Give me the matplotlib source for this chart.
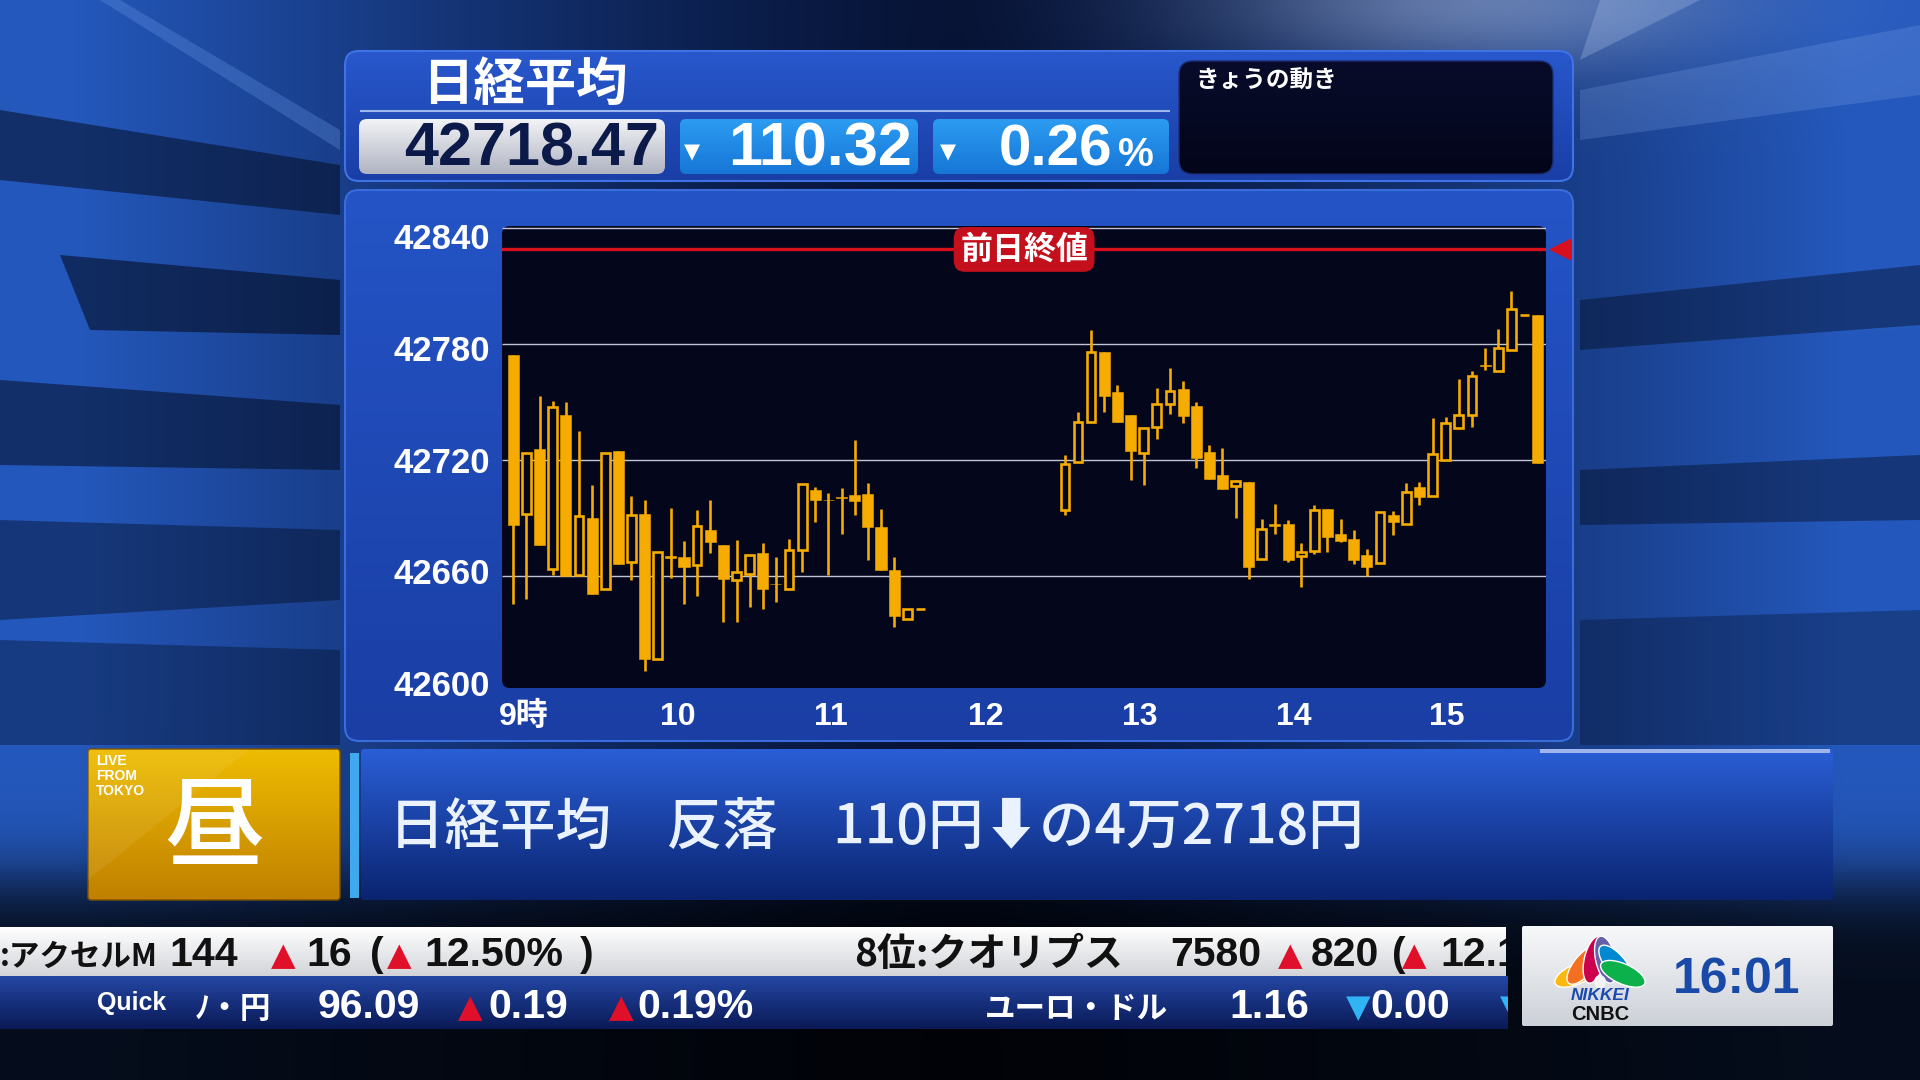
import numpy as np
import matplotlib.pyplot as plt
import matplotlib.transforms as mtransforms
from matplotlib.colors import to_rgb
from matplotlib.patches import FancyBboxPatch, Rectangle, Polygon, Ellipse

# ---------------- values ----------------
nikkei_last = 42718.47
nikkei_chg = -110.32
nikkei_pct = -0.26
prev_close = round(nikkei_last - nikkei_chg, 2)   # 前日終値

# morning session, 5-minute bars (the last one is the flat 11:30 bar)
am_open = [42774.5, 42692.4, 42725.6, 42663.9, 42743.4, 42660.5, 42690.2, 42653.6,
           42724.7, 42667.4, 42692.4, 42617.3, 42670.5, 42670.0, 42665.7, 42683.8,
           42676.0, 42657.9, 42661.3, 42672.2, 42656.2, 42653.6, 42673.4, 42704.5,
           42699.7, 42701.0, 42701.9, 42702.5, 42685.5, 42663.1, 42638.0, 42643.2]
am_high = [42774.5, 42723.5, 42752.9, 42750.6, 42749.8, 42735.3, 42707.1, 42723.5,
           42724.7, 42701.4, 42699.7, 42672.6, 42695.5, 42678.3, 42694.2, 42699.3,
           42676.0, 42679.0, 42671.2, 42677.2, 42670.0, 42679.5, 42707.6, 42706.3,
           42703.1, 42705.4, 42730.4, 42708.0, 42695.0, 42670.0, 42643.2, 42643.2]
am_low = [42645.8, 42648.4, 42676.0, 42660.5, 42660.0, 42660.5, 42651.0, 42653.6,
          42666.5, 42657.9, 42611.3, 42617.3, 42659.3, 42645.8, 42650.1, 42672.1,
          42636.3, 42636.3, 42644.1, 42643.2, 42646.7, 42653.6, 42662.2, 42688.1,
          42660.5, 42682.1, 42691.6, 42668.6, 42663.1, 42634.0, 42638.0, 42643.2]
am_close = [42686.4, 42723.5, 42676.0, 42747.7, 42660.0, 42691.2, 42651.0, 42723.5,
            42666.5, 42691.6, 42617.3, 42672.6, 42669.5, 42665.1, 42685.9, 42677.8,
            42658.8, 42662.2, 42671.2, 42653.6, 42656.0, 42673.4, 42707.6, 42699.7,
            42699.3, 42700.6, 42699.0, 42685.5, 42663.1, 42639.8, 42643.2, 42643.2]

# afternoon session (the last one is the flat bar before the closing auction)
pm_open = [42694.5, 42718.9, 42739.9, 42775.7, 42755.0, 42743.4, 42723.9, 42737.3, 42748.9,
           42756.7, 42748.0, 42724.0, 42712.1, 42706.8, 42708.8, 42669.1, 42686.9, 42686.9,
           42670.8, 42673.1, 42695.0, 42682.1, 42679.5, 42671.2, 42666.9, 42691.6, 42687.3,
           42706.3, 42701.6, 42720.1, 42736.5, 42743.4, 42769.3, 42765.8, 42777.1, 42794.7]
pm_high = [42722.7, 42744.8, 42787.4, 42775.7, 42758.6, 42743.4, 42736.5, 42757.5, 42767.6,
           42760.7, 42749.9, 42727.8, 42726.1, 42709.7, 42708.8, 42689.8, 42697.3, 42689.0,
           42677.2, 42697.1, 42695.0, 42689.5, 42684.1, 42674.3, 42693.0, 42693.8, 42708.0,
           42708.5, 42741.7, 42742.2, 42761.9, 42765.8, 42777.9, 42787.8, 42807.3, 42794.7]
pm_low = [42691.6, 42718.9, 42739.9, 42745.1, 42739.6, 42710.0, 42707.1, 42731.0, 42743.7,
          42739.1, 42715.8, 42710.1, 42705.2, 42690.4, 42658.8, 42669.1, 42682.1, 42667.4,
          42654.4, 42671.7, 42672.6, 42677.8, 42666.5, 42660.0, 42666.9, 42681.2, 42687.3,
          42696.8, 42701.6, 42720.1, 42736.5, 42737.3, 42766.4, 42765.8, 42777.1, 42794.7]
pm_close = [42717.8, 42739.9, 42775.7, 42752.9, 42739.6, 42724.9, 42736.5, 42749.1, 42755.8,
            42742.9, 42721.3, 42710.1, 42705.2, 42709.2, 42665.1, 42684.7, 42686.2, 42668.3,
            42672.6, 42694.2, 42680.3, 42678.3, 42668.3, 42664.8, 42693.0, 42688.1, 42703.7,
            42701.1, 42723.0, 42739.1, 42743.4, 42763.6, 42768.4, 42777.9, 42797.8, 42794.7]

# closing auction bar (open, high, low, close)
auction = [42794.7, 42794.7, nikkei_last, nikkei_last]

lunch_gap = 10                 # empty 5-minute slots over lunch on the board
hour_labels = ['9時', '10', '11', '12', '13', '14', '15']
hour_slots = [0.82, 12.5, 24.2, 36.0, 47.7, 59.4, 71.1]
y_labels = [42600, 42660, 42720, 42780, 42840]

headline = '日経平均　反落　110円⬇の4万2718円'

# ticker pieces: (left x in px, text, kind)
ticker_top = [(0, ':アクセルM', 'k'), (169, '144', 'n'), (271, '▲', 'up'), (306, '16', 'n'),
              (370, '(', 'n'), (387, '▲', 'up'), (424, '12.50%', 'n'), (580, ')', 'n'),
              (854, '8位:クオリプス', 'kw'), (1170, '7580', 'n'), (1278, '▲', 'up'),
              (1311, '820', 'n'), (1392, '(', 'n'), (1402, '▲', 'up'), (1440, '12.13%', 'n')]
ticker_bot = [(195, 'ﾉ・円', 'k'), (318, '96.09', 'n'), (458, '▲', 'up'), (488, '0.19', 'n'),
              (609, '▲', 'up'), (637, '0.19%', 'n'), (985, 'ユーロ・ドル', 'k'),
              (1229, '1.16', 'n'), (1346, '▼', 'dn'), (1370, '0.00', 'n'), (1500, '▼', 'dn')]
clock = '16:01'

# ---------------- style ----------------
ORANGE = '#f5ab00'
PANEL = '#04061c'
RED = '#d8101c'
CJK = ['Noto Sans CJK JP', 'DejaVu Sans']
LAT = ['Liberation Sans', 'Noto Sans CJK JP', 'DejaVu Sans']
SYM = ['DejaVu Sans']

fig = plt.figure(figsize=(19.2, 10.8), dpi=100)
bg = fig.add_axes([0, 0, 1, 1])
bg.axis('off')
bg.set_xlim(0, 1920)
bg.set_ylim(1080, 0)


def grad_box(x0, y0, x1, y1, c_top, c_bot, r=8, edge='none', lw=0, z=2):
    patch = FancyBboxPatch((x0, y0), x1 - x0, y1 - y0,
                           boxstyle=f'round,pad=0,rounding_size={r}',
                           fc='none', ec=edge, lw=lw, zorder=z + 0.1)
    bg.add_patch(patch)
    t = np.linspace(0, 1, 64)[:, None, None]
    img = np.array(to_rgb(c_top)) * (1 - t) + np.array(to_rgb(c_bot)) * t
    im = bg.imshow(img, extent=(x0, x1, y1, y0), aspect='auto', zorder=z,
                   interpolation='bilinear')
    im.set_clip_path(patch)
    return patch


# studio backdrop
yy, xx = np.mgrid[0:1080:2, 0:1920:2]
side = np.clip((np.abs(xx - 960) / 960.0) ** 1.3 + 0.1, 0, 1)
base = np.array(to_rgb('#030b26'))
lit = np.array(to_rgb('#2458bc'))
img = base + (lit - base) * side[..., None]
glow = np.exp(-((xx - 1480) / 260.0) ** 2 - (yy / 70.0) ** 2)
img = img + 0.4 * glow[..., None] * (np.array([0.85, 0.9, 1.0]) - img)
dim = 1 - 0.85 / (1 + np.exp(-(yy - 880) / 22.0))
img = img * dim[..., None]
bg.imshow(np.clip(img, 0, 1), extent=(0, 1920, 1080, 0), aspect='auto', zorder=0)

slabs = [
    ([(0, 110), (340, 165), (340, 215), (0, 180)], '#020818', 0.5),
    ([(60, 255), (340, 280), (340, 335), (90, 330)], '#020818', 0.55),
    ([(0, 380), (340, 405), (340, 470), (0, 465)], '#020818', 0.5),
    ([(0, 520), (340, 530), (340, 600), (0, 620)], '#020818', 0.4),
    ([(0, 640), (340, 650), (340, 745), (0, 745)], '#020818', 0.35),
    ([(120, 0), (340, 130), (340, 150), (100, 0)], '#6a9ae8', 0.3),
    ([(1580, 90), (1920, 25), (1920, 95), (1580, 140)], '#8ab0f0', 0.22),
    ([(1580, 300), (1920, 265), (1920, 325), (1580, 350)], '#020818', 0.4),
    ([(1580, 470), (1920, 455), (1920, 520), (1580, 525)], '#020818', 0.4),
    ([(1580, 620), (1920, 610), (1920, 745), (1580, 745)], '#020818', 0.3),
    ([(1600, 0), (1700, 0), (1580, 60)], '#c0d4f4', 0.25),
]
for pts, col, a in slabs:
    bg.add_patch(Polygon(pts, closed=True, fc=col, ec='none', alpha=a, zorder=1))

# ---- header panel ----
grad_box(345, 51, 1573, 181, '#2858cc', '#1a3ea6', r=14, edge='#3f72e4', lw=1.5)
bg.plot([361, 1169], [111, 111], color='#9cb6ee', lw=1.5, zorder=4)
bg.text(422, 84, '日経平均', family=CJK, weight='bold', fontsize=37, color='white',
        ha='left', va='center', zorder=5)
grad_box(359, 119, 665, 174, '#f2f3f6', '#b0b4c2', r=8, z=4)
grad_box(680, 119, 918, 174, '#2c9cf2', '#1676d6', r=6, z=4)
grad_box(933, 119, 1169, 174, '#2c9cf2', '#1676d6', r=6, z=4)
bg.text(659, 166, f'{nikkei_last:.2f}', family=LAT, weight='bold', fontsize=44,
        color='#0c1a4a', ha='right', va='baseline', zorder=5)
bg.text(684, 158, '▼', family=SYM, fontsize=15, color='white', ha='left', va='baseline', zorder=5)
bg.text(912, 166, f'{abs(nikkei_chg):.2f}', family=LAT, weight='bold', fontsize=44,
        color='white', ha='right', va='baseline', zorder=5)
bg.text(940, 158, '▼', family=SYM, fontsize=15, color='white', ha='left', va='baseline', zorder=5)
bg.text(1112, 166, f'{abs(nikkei_pct):.2f}', family=LAT, weight='bold', fontsize=42,
        color='white', ha='right', va='baseline', zorder=5)
bg.text(1118, 166, '%', family=LAT, weight='bold', fontsize=29, color='white',
        ha='left', va='baseline', zorder=5)
grad_box(1179, 61, 1553, 174, '#080c2a', '#03051a', r=14, edge='#1c2c72', lw=1, z=4)
bg.text(1196, 81, 'きょうの動き', family=CJK, weight='bold', fontsize=17, color='white',
        ha='left', va='center', zorder=5)

# ---- chart panel ----
grad_box(345, 190, 1573, 741, '#2454c6', '#1a3ea4', r=14, edge='#3a6cdc', lw=1.5)
bg.add_patch(FancyBboxPatch((502, 226), 1044, 462, boxstyle='round,pad=0,rounding_size=8',
                            fc=PANEL, ec='none', zorder=3))

# ---- lower banner ----
grad_box(88, 749, 340, 900, '#eebc00', '#c08000', r=3, edge='#7a5000', lw=1)
bg.add_patch(Polygon([(88, 749), (250, 749), (88, 880)], fc='white', alpha=0.07, zorder=3))
bg.text(96, 776, 'LIVE\nFROM\nTOKYO', family=LAT, weight='bold', fontsize=10,
        color='white', ha='left', va='center', linespacing=1.05, zorder=5)
bg.text(214, 830, '昼', family=CJK, weight='medium', fontsize=72, color='white',
        ha='center', va='center', zorder=5)
bg.add_patch(Rectangle((350, 753), 9, 145, fc='#3fa8ee', ec='none', zorder=3))
grad_box(361, 749, 1833, 900, '#2a5ed6', '#0a2470', r=3)
bg.add_patch(Rectangle((1540, 749), 290, 4, fc='white', alpha=0.55, ec='none', zorder=4))
bg.text(389, 828, headline, family=CJK, weight='medium', fontsize=40, color='#eaf2ff',
        ha='left', va='center', zorder=5)

# ---- ticker ----
grad_box(0, 927, 1506, 976, '#ffffff', '#d2d4d9', r=0)
grad_box(0, 976, 1508, 1029, '#2446a4', '#0a1a56', r=0)
tick_col = {'up': '#e0102a', 'dn': '#30b4f4'}
kana_size = {'k': 22, 'kw': 28}


def ticker_row(items, y, fg, x_end):
    clip = mtransforms.TransformedBbox(
        mtransforms.Bbox.from_extents(0, y - 40, x_end, y + 12), bg.transData)
    for x, s, kind in items:
        if kind in ('up', 'dn'):
            t = bg.text(x, y - 1, s, family=SYM, fontsize=23, color=tick_col[kind],
                        ha='left', va='baseline', zorder=5)
        elif kind in kana_size:
            t = bg.text(x, y, s, family=CJK, weight='bold', fontsize=kana_size[kind],
                        color=fg, ha='left', va='baseline', zorder=5)
        else:
            t = bg.text(x, y, s, family=LAT, weight='bold', fontsize=29.5, color=fg,
                        ha='left', va='baseline', zorder=5)
        t.set_clip_box(clip)
        t.set_clip_on(True)


ticker_row(ticker_top, 966, '#111111', 1506)
ticker_row(ticker_bot, 1018, 'white', 1508)
bg.text(97, 1003, 'Quick', family=LAT, weight='bold', fontsize=18, color='white',
        ha='left', va='center', zorder=5)

# ---- logo box ----
grad_box(1522, 926, 1833, 1026, '#f7f8fa', '#cdd1d8', r=2, z=6)
feathers = ['#fcb711', '#f37021', '#cc004c', '#6460aa', '#0089d0', '#0db14b']
for ang, col in zip(np.linspace(-66, 66, len(feathers)), feathers):
    a = np.deg2rad(ang)
    cx, cy = 1600 + 25 * np.sin(a), 984 - 25 * np.cos(a)
    bg.add_patch(Ellipse((cx, cy), 20, 48, angle=-ang, fc=col, ec='white', lw=1.0, zorder=7))
bg.add_patch(Ellipse((1600, 982), 12, 14, fc='#f2f3f5', ec='none', zorder=8))
bg.text(1600, 996, 'NIKKEI', family=LAT, weight='bold', style='italic', fontsize=12.5,
        color='#1a4ab0', ha='center', va='center', zorder=8)
bg.text(1600, 1015, 'CNBC', family=LAT, weight='bold', fontsize=14.5, color='#111111',
        ha='center', va='center', zorder=8)
bg.text(1737, 980, clock, family=LAT, weight='bold', fontsize=36, color='#1a4aa8',
        ha='center', va='center', zorder=8)

bg.set_xlim(0, 1920)
bg.set_ylim(1080, 0)

# ---------------- candlestick chart ----------------
ax = fig.add_axes([502 / 1920, 1 - 688 / 1080, 1044 / 1920, 462 / 1080])
ax.set_facecolor('none')
for s in ax.spines.values():
    s.set_visible(False)
ax.set_xlim(-0.86, 78.64)
ax.set_ylim(42602.4, 42840.9)

inside = [v for v in y_labels if 42602.4 < v < 42840.9]
ax.hlines(inside, -0.86, 78.64, color='#c2c6d4', lw=1.0, zorder=1)


def candles(xs, o, h, l, c):
    xs = np.asarray(xs, float)
    o, h, l, c = (np.asarray(v, float) for v in (o, h, l, c))
    up = c >= o
    ax.vlines(xs, l, h, color=ORANGE, lw=1.9, zorder=3)
    bottom = np.minimum(o, c)
    height = np.abs(c - o)
    ax.bar(xs[~up], height[~up], bottom=bottom[~up], width=0.84, color=ORANGE,
           edgecolor=ORANGE, lw=0.4, zorder=4)
    ax.bar(xs[up], height[up], bottom=bottom[up], width=0.66, color=PANEL,
           edgecolor=ORANGE, lw=1.9, zorder=4)


am_x = np.arange(len(am_open))
pm_x = np.arange(len(pm_open)) + len(am_open) + lunch_gap
candles(am_x, am_open, am_high, am_low, am_close)
candles(pm_x, pm_open, pm_high, pm_low, pm_close)
candles([pm_x[-1] + 1], [auction[0]], [auction[1]], [auction[2]], [auction[3]])

# previous close line
ax.axhline(prev_close, color=RED, lw=2.4, zorder=5)
ax.plot([79.7], [prev_close], marker='<', ms=15, color=RED, clip_on=False, zorder=6)
ax.text(38.9, prev_close, '前日終値', family=CJK, weight='bold', fontsize=23, color='white',
        ha='center', va='center', zorder=7, clip_on=False,
        bbox=dict(boxstyle='round,pad=0.2,rounding_size=0.35', fc='#c4101c', ec='none'))

# axis labels
ax.set_yticks([])
ax.set_xticks(hour_slots, hour_labels)
ax.tick_params(axis='x', length=0, pad=10)
for lab in ax.get_xticklabels():
    lab.set_fontfamily(LAT)
    lab.set_fontweight('bold')
    lab.set_fontsize(23)
    lab.set_color('white')

trans = mtransforms.blended_transform_factory(ax.transAxes, ax.transData)
for v in y_labels:
    # the board squeezes its labels slightly towards the middle of the grid
    ax.text(-0.0115, 42720 + (v - 42720) * 0.96 - 1.5, f'{v}', transform=trans,
            family=LAT, weight='bold', fontsize=25, color='white',
            ha='right', va='center', clip_on=False)

fig.savefig('out.png', dpi=100)
